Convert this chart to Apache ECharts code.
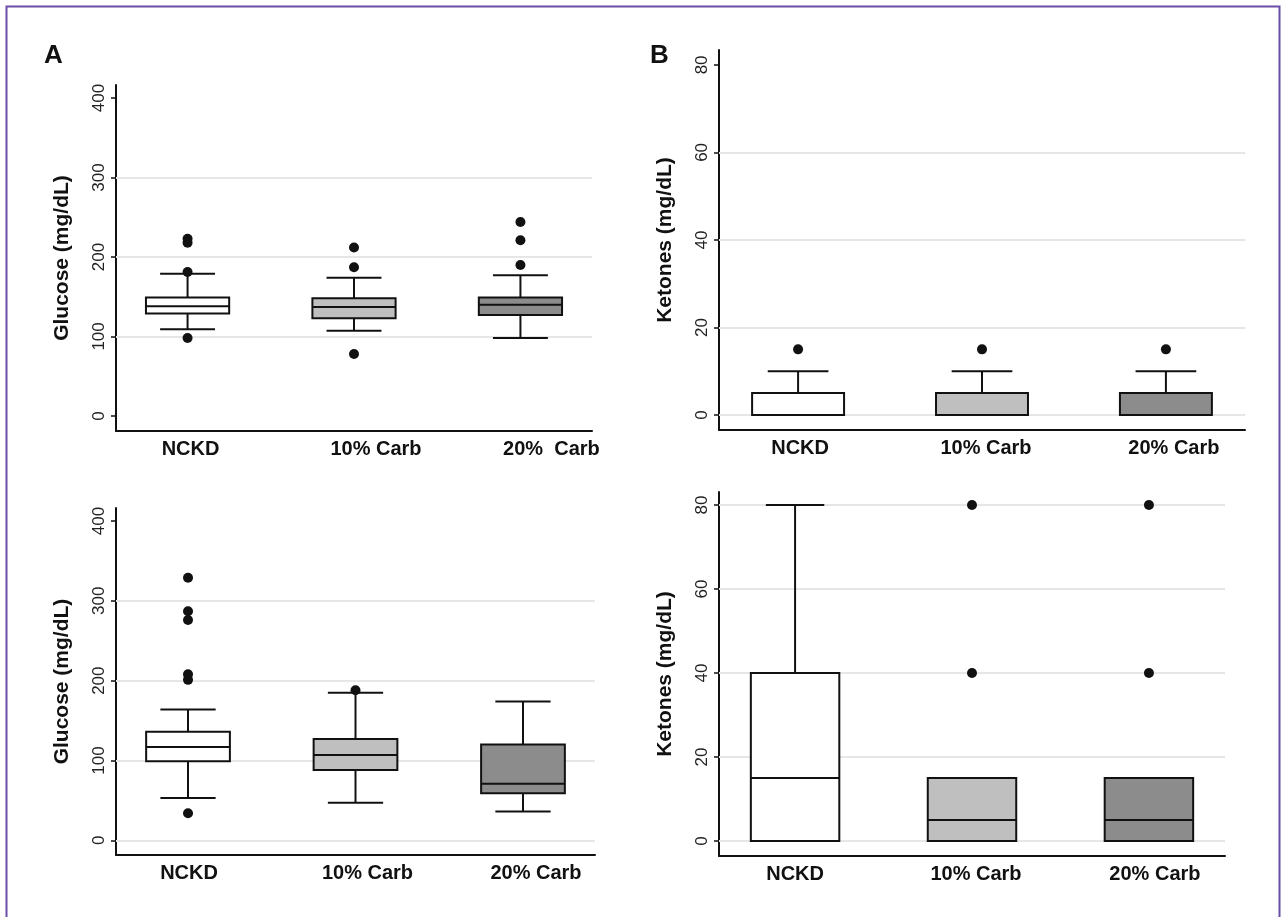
<!DOCTYPE html>
<html>
<head>
<meta charset="utf-8">
<script src="https://cdn.jsdelivr.net/npm/echarts@6/dist/echarts.min.js"></script>
<style>
  html, body { margin: 0; padding: 0; background: #fff; }
  #main { width: 1285px; height: 917px; }
</style>
</head>
<body>
<div id="main"></div>
<script>
// group names
var groups = ['NCKD', '10% Carb', '20% Carb'];
var groupsA1 = ['NCKD', '10% Carb', '20%  Carb'];
// boxes: [lower whisker, Q1, median, Q3, upper whisker]
var glucoseTop = [[109, 129, 138, 149, 179], [107, 123, 137, 148, 174], [98, 127, 140, 149, 177]];
var glucoseTopOut = [[223, 218, 181, 98], [212, 187, 78], [244, 221, 190]];
var glucoseBottom = [[53, 99, 117, 136, 164], [47, 88, 107, 127, 185], [36, 59, 71, 120, 174]];
var glucoseBottomOut = [[329, 287, 276, 208, 201, 34], [188], []];
var ketonesTop = [[0, 0, 0, 5, 10], [0, 0, 0, 5, 10], [0, 0, 0, 5, 10]];
var ketonesTopOut = [[15], [15], [15]];
var ketonesBottom = [[0, 0, 15, 40, 80], [0, 0, 5, 15, 15], [0, 0, 5, 15, 15]];
var ketonesBottomOut = [[], [80, 40], [80, 40]];
// ticks and grid lines
var glucoseTicks = [0, 100, 200, 300, 400];
var ketoneTicks = [0, 20, 40, 60, 80];
var glucoseGridTop = [100, 200, 300];
var glucoseGridBottom = [0, 100, 200, 300];
var ketoneGridTop = [0, 20, 40, 60];
var ketoneGridBottom = [0, 20, 40, 60, 80];

var fills = ['#ffffff', '#bfbfbf', '#8c8c8c'];
var FONT = '"Liberation Sans", Arial, sans-serif';
var BOX_W = 0.5, CAP_W = 0.33;

// layout of the four panels
var panels = [
  {grid: {left: 116, top: 85, width: 476, height: 346}, y: [-19, 416.4], names: groupsA1, off: [3, 22, 31],
   title: 'Glucose (mg/dL)', ticks: glucoseTicks, lines: glucoseGridTop, box: glucoseTop, out: glucoseTopOut},
  {grid: {left: 719, top: 50, width: 526, height: 380}, y: [-3.43, 83.4], names: groups, off: [2, 4, 8],
   title: 'Ketones (mg/dL)', ticks: ketoneTicks, lines: ketoneGridTop, box: ketonesTop, out: ketonesTopOut},
  {grid: {left: 116, top: 508, width: 479, height: 347}, y: [-18.4, 416.3], names: groups, off: [1, 12, 13],
   title: 'Glucose (mg/dL)', ticks: glucoseTicks, lines: glucoseGridBottom, box: glucoseBottom, out: glucoseBottomOut},
  {grid: {left: 719, top: 492, width: 506, height: 364}, y: [-3.57, 83.1], names: groups, off: [0, 4, 6],
   title: 'Ketones (mg/dL)', ticks: ketoneTicks, lines: ketoneGridBottom, box: ketonesBottom, out: ketonesBottomOut}
];

function renderBox(params, api) {
  var x = api.value(0);
  var lo = api.coord([x, api.value(1)]);
  var q1 = api.coord([x, api.value(2)]);
  var md = api.coord([x, api.value(3)]);
  var q3 = api.coord([x, api.value(4)]);
  var hi = api.coord([x, api.value(5)]);
  var bw = api.size([BOX_W, 0])[0];
  var cw = api.size([CAP_W, 0])[0];
  var cx = q1[0];
  var ln = {stroke: '#111', lineWidth: 2};
  return {
    type: 'group',
    children: [
      {type: 'line', shape: {x1: cx, y1: hi[1], x2: cx, y2: q3[1]}, style: ln},
      {type: 'line', shape: {x1: cx, y1: q1[1], x2: cx, y2: lo[1]}, style: ln},
      {type: 'line', shape: {x1: cx - cw / 2, y1: hi[1], x2: cx + cw / 2, y2: hi[1]}, style: ln},
      {type: 'line', shape: {x1: cx - cw / 2, y1: lo[1], x2: cx + cw / 2, y2: lo[1]}, style: ln},
      {type: 'rect', shape: {x: cx - bw / 2, y: q3[1], width: bw, height: q1[1] - q3[1]},
       style: {fill: fills[params.dataIndex], stroke: '#111', lineWidth: 2}},
      {type: 'line', shape: {x1: cx - bw / 2, y1: md[1], x2: cx + bw / 2, y2: md[1]}, style: ln}
    ]
  };
}

var option = {
  animation: false,
  backgroundColor: '#fff',
  textStyle: {fontFamily: FONT},
  title: [
    {text: 'A', left: 44, top: 43, padding: 0, textStyle: {fontSize: 26, fontWeight: 'bold', color: '#111', fontFamily: FONT}},
    {text: 'B', left: 650, top: 43, padding: 0, textStyle: {fontSize: 26, fontWeight: 'bold', color: '#111', fontFamily: FONT}}
  ],
  graphic: [{
    type: 'rect', shape: {x: 6.5, y: 6.5, width: 1273, height: 1000}, silent: true,
    style: {fill: 'none', stroke: '#6a4fa8', lineWidth: 2}
  }],
  grid: [], xAxis: [], yAxis: [], series: []
};

panels.forEach(function (p, k) {
  option.grid.push(p.grid);
  var rich = {};
  p.off.forEach(function (o, i) {
    rich['p' + i] = {fontSize: 20, fontWeight: 'bold', color: '#111', fontFamily: FONT, padding: [0, 0, 0, 2 * o]};
  });
  option.xAxis.push({
    type: 'value', gridIndex: k, min: 0.57, max: 3.43,
    axisLine: {onZero: false, lineStyle: {color: '#111', width: 2}},
    axisTick: {show: false},
    splitLine: {show: false},
    axisLabel: {
      customValues: [1, 2, 3], margin: 8,
      formatter: (function (names) {
        return function (v) { var i = Math.round(v) - 1; return '{p' + i + '|' + names[i] + '}'; };
      })(p.names),
      rich: rich
    }
  });
  option.yAxis.push({
    type: 'value', gridIndex: k, min: p.y[0], max: p.y[1],
    name: p.title, nameLocation: 'middle', nameGap: 43,
    nameTextStyle: {fontSize: 21, fontWeight: 'bold', color: '#111', fontFamily: FONT},
    axisLine: {show: true, onZero: false, lineStyle: {color: '#111', width: 2}},
    axisTick: {show: true, customValues: p.ticks, length: 5, lineStyle: {color: '#111', width: 1.5}},
    splitLine: {show: false},
    axisLabel: {customValues: p.ticks, rotate: 90, margin: 8, fontSize: 17, color: '#222', fontFamily: FONT}
  });
  option.series.push({
    type: 'custom', xAxisIndex: k, yAxisIndex: k, z: 10,
    renderItem: renderBox,
    encode: {x: 0, y: [1, 2, 3, 4, 5]},
    data: p.box.map(function (b, i) { return [i + 1].concat(b); }),
    markLine: {
      silent: true, symbol: ['none', 'none'], label: {show: false},
      lineStyle: {color: '#e6e6e6', width: 2, type: 'solid'},
      emphasis: {disabled: true},
      data: p.lines.map(function (v) { return {yAxis: v}; })
    }
  });
  var pts = [];
  p.out.forEach(function (arr, i) {
    arr.forEach(function (v) { pts.push([i + 1, v]); });
  });
  option.series.push({
    type: 'scatter', xAxisIndex: k, yAxisIndex: k, z: 11,
    symbolSize: 10, itemStyle: {color: '#111', opacity: 1},
    data: pts
  });
});

var chart = echarts.init(document.getElementById('main'));
chart.setOption(option);
</script>
</body>
</html>
